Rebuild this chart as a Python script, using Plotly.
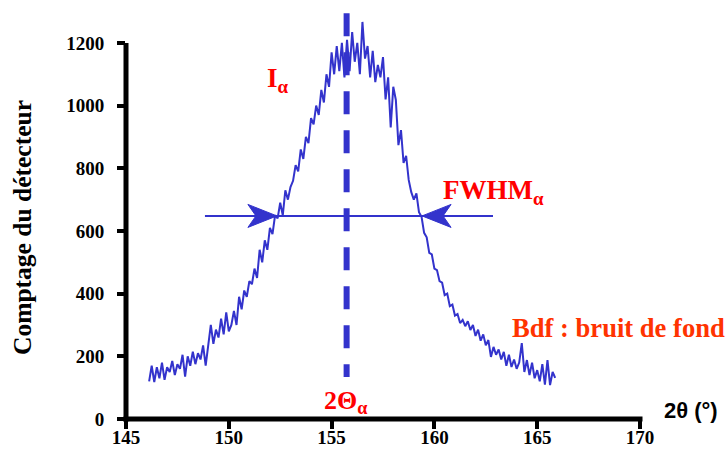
import plotly.graph_objects as go

# ---- data ----
x_start = 146.125
x_step = 0.125
counts = [
    120, 170, 118, 165, 130, 180, 125, 165,
    150, 185, 140, 175, 160, 205, 135, 200,
    170, 215, 175, 210, 190, 235, 170, 240,
    300, 240, 285, 260, 320, 270, 340, 280,
    300, 345, 300, 390, 350, 410, 390, 440,
    430, 480, 450, 540, 500, 570, 540, 610,
    590, 650, 640, 690, 650, 730, 700, 740,
    760, 810, 790, 860, 830, 900, 880, 960,
    940, 1000, 970, 1050, 1010, 1100, 1060, 1170,
    1100, 1190, 1110, 1200, 1090, 1210, 1110, 1235,
    1140, 1200, 1100, 1267, 1150, 1190, 1090, 1175,
    1075, 1130, 1090, 1155, 1020, 1090, 930, 1060,
    1018, 874, 922, 817, 840, 763, 724, 700,
    720, 660, 645, 594, 580, 530, 525, 480,
    475, 440, 435, 395, 400, 360, 365, 330,
    335, 306, 316, 296, 312, 284, 300, 265,
    285, 250, 270, 235, 252, 198, 230, 205,
    222, 190, 214, 170, 205, 166, 190, 160,
    180, 242, 150, 188, 140, 180, 130, 156,
    120, 175, 110, 188, 108, 150, 131,
]
two_theta = [x_start + i * x_step for i in range(len(counts))]

x_ticks = [145, 150, 155, 160, 165, 170]
y_ticks = [0, 200, 400, 600, 800, 1000, 1200]

peak_center = 155.73          # 2Θα
dash_top, dash_bottom = 1295, 134
half_max = 648                # FWHM level
fwhm_line = [148.84, 162.85]  # extent of the horizontal arrow line
fwhm_left, fwhm_right = 152.34, 159.4

x_range = [145, 170]
y_range = [0, 1337]

BLUE = "#3333CC"
RED = "#FF0000"
ORANGE = "#FF3300"
SERIF = "Liberation Serif, Times New Roman, serif"

fig = go.Figure()
fig.add_trace(go.Scatter(
    x=two_theta, y=counts, mode="lines",
    line=dict(color=BLUE, width=2), hoverinfo="skip", showlegend=False,
))

# plot geometry (pixels)
L, R, T, B = 126, 88, 0, 56
W, H = 728, 475
pw, ph = W - L - R, H - T - B


def px_x(px):
    return (px - L) / pw


def px_y(py):
    return (H - B - py) / ph


shapes = [
    # y axis line (only up to 1200)
    dict(type="line", xref="paper", yref="paper", x0=0, x1=0,
         y0=-2.5 / ph, y1=y_ticks[-1] / y_range[1],
         line=dict(color="black", width=5), layer="above"),
    # x axis line
    dict(type="line", xref="paper", yref="paper", x0=-2.5 / pw, x1=1 + 2.5 / pw,
         y0=0, y1=0, line=dict(color="black", width=5), layer="above"),
    # dashed centre line
    dict(type="line", xref="x", yref="y", x0=peak_center, x1=peak_center,
         y0=dash_top, y1=dash_bottom,
         line=dict(color=BLUE, width=6, dash="23px,16px")),
    # FWHM horizontal line
    dict(type="line", xref="x", yref="y", x0=fwhm_line[0], x1=fwhm_line[1],
         y0=half_max, y1=half_max, line=dict(color=BLUE, width=2)),
    # arrow heads
    dict(type="path", xref="x", yref="y", xsizemode="pixel", ysizemode="pixel",
         xanchor=fwhm_left, yanchor=half_max,
         path="M-29,11.5 L0,0 L-29,-11.5 L-21,0 Z",
         fillcolor=BLUE, line=dict(color=BLUE, width=1)),
    dict(type="path", xref="x", yref="y", xsizemode="pixel", ysizemode="pixel",
         xanchor=fwhm_right, yanchor=half_max,
         path="M29,11.5 L0,0 L29,-11.5 L21,0 Z",
         fillcolor=BLUE, line=dict(color=BLUE, width=1)),
]

bold_serif = lambda size, color: dict(family=SERIF, size=size, color=color, weight="bold")

annotations = [
    dict(text="I<sub>α</sub>", x=px_x(265), y=px_y(80), font=bold_serif(27, RED)),
    dict(text="FWHM<sub>α</sub>", x=px_x(441), y=px_y(192), font=bold_serif(27, RED)),
    dict(text="2Θ<sub>α</sub>", x=px_x(322), y=px_y(402), font=bold_serif(26, RED)),
    dict(text="Bdf : bruit de fond", x=px_x(510), y=px_y(328), font=bold_serif(26.6, ORANGE)),
    dict(text="2θ (°)", x=px_x(662), y=px_y(410),
         font=dict(family="Liberation Sans Narrow, Liberation Sans, Arial, sans-serif",
                   size=22, color="black", weight="bold")),
]
for a in annotations:
    a.update(xref="paper", yref="paper", xanchor="left", yanchor="middle",
             showarrow=False)

annotations.append(dict(
    text="Comptage du détecteur", xref="paper", yref="paper",
    x=px_x(22), y=px_y(228), xanchor="center", yanchor="middle",
    textangle=-90, showarrow=False, font=bold_serif(25.5, "black"),
))

fig.update_layout(
    width=W, height=H,
    margin=dict(l=L, r=R, t=T, b=B, pad=0),
    paper_bgcolor="white", plot_bgcolor="white",
    shapes=shapes, annotations=annotations, showlegend=False,
    xaxis=dict(range=x_range, tickvals=x_ticks, ticktext=[str(v) for v in x_ticks],
               showgrid=False, zeroline=False, showline=False,
               ticks="outside", ticklen=9, tickwidth=4, tickcolor="black",
               tickfont=bold_serif(19, "black"), ticklabelstandoff=-8),
    yaxis=dict(range=y_range, tickvals=y_ticks, ticktext=[str(v) for v in y_ticks],
               showgrid=False, zeroline=False, showline=False,
               ticks="outside", ticklen=8, tickwidth=4, tickcolor="black",
               tickfont=bold_serif(19, "black"), ticklabelstandoff=9),
)

fig.write_html(
    "out.html",
    config={"displayModeBar": False},
    post_script="document.body.style.margin='0';document.body.style.padding='0';",
)
